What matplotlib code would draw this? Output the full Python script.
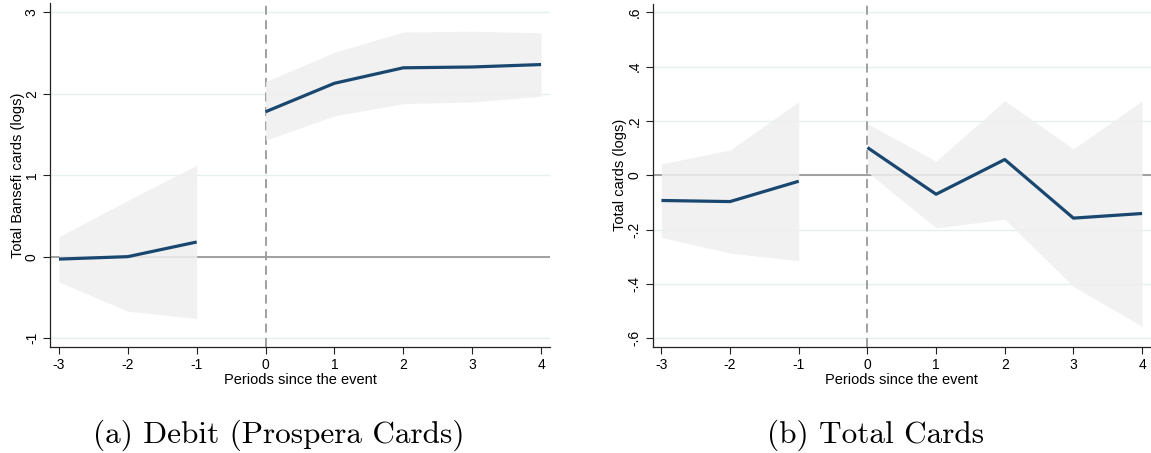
import matplotlib
matplotlib.use("Agg")
import matplotlib.pyplot as plt
import numpy as np

# ---- data ----
periods_pre = [-3, -2, -1]
periods_post = [0, 1, 2, 3, 4]

# Panel (a): Debit (Prospera Cards)
a_pre = [-0.03, 0.00, 0.18]
a_pre_lo = [-0.31, -0.67, -0.76]
a_pre_hi = [0.245, 0.69, 1.125]
a_post = [1.78, 2.13, 2.32, 2.33, 2.36]
a_post_lo = [1.43, 1.73, 1.88, 1.90, 1.97]
a_post_hi = [2.15, 2.51, 2.76, 2.77, 2.75]

# Panel (b): Total Cards
b_pre = [-0.093, -0.097, -0.022]
b_pre_lo = [-0.229, -0.287, -0.315]
b_pre_hi = [0.042, 0.093, 0.271]
b_post = [0.102, -0.070, 0.058, -0.158, -0.141]
b_post_lo = [0.012, -0.194, -0.162, -0.410, -0.557]
b_post_hi = [0.19, 0.052, 0.275, 0.097, 0.274]

xticks = [-3, -2, -1, 0, 1, 2, 3, 4]
a_yticks = [-1, 0, 1, 2, 3]
a_ylabels = ["-1", "0", "1", "2", "3"]
b_yticks = [-0.6, -0.4, -0.2, 0, 0.2, 0.4, 0.6]
b_ylabels = ["-.6", "-.4", "-.2", "0", ".2", ".4", ".6"]

a_ylabel = "Total Bansefi cards (logs)"
b_ylabel = "Total cards (logs)"
xlabel = "Periods since the event"
a_caption = "(a) Debit (Prospera Cards)"
b_caption = "(b) Total Cards"

LINE = "#1a476f"
BAND = "#efefef"
GRID = "#e6f0f1"
SANS = ["Liberation Sans", "DejaVu Sans"]

fig = plt.figure(figsize=(11.51, 4.53), dpi=100)
axA = fig.add_axes([50 / 1151, 1 - 347 / 453, 500 / 1151, 343.5 / 453])
axB = fig.add_axes([652.5 / 1151, 1 - 347 / 453, 498.5 / 1151, 343.5 / 453])


def panel(ax, pre, pre_lo, pre_hi, post, post_lo, post_hi, yticks, ylabels, ylim, ylabel):
    ax.set_xlim(-3.13, 4.13)
    ax.set_ylim(*ylim)
    for t in yticks:
        ax.axhline(t, color=GRID, lw=1.0, zorder=0)
    ax.axhline(0, color="#999999", lw=1.3, zorder=1)
    ax.axvline(0, color="#999999", lw=1.3, ls=(0, (5, 3)), zorder=1)
    ax.fill_between(periods_pre, pre_lo, pre_hi, color=BAND, alpha=0.85, lw=0, zorder=2)
    ax.fill_between(periods_post, post_lo, post_hi, color=BAND, alpha=0.85, lw=0, zorder=2)
    ax.plot(periods_pre, pre, color=LINE, lw=2.3, zorder=3, solid_capstyle="butt")
    ax.plot(periods_post, post, color=LINE, lw=2.3, zorder=3, solid_capstyle="butt")
    ax.set_xticks(xticks)
    ax.set_xticklabels([str(t) for t in xticks], fontsize=10, family=SANS)
    ax.set_yticks(yticks)
    ax.set_yticklabels(ylabels, fontsize=10, family=SANS, rotation=90, va="center")
    ax.tick_params(direction="out", length=5, width=0.8, color="#222222", pad=3)
    ax.set_xlabel(xlabel, fontsize=10.5, family=SANS, labelpad=1)
    ax.set_ylabel(ylabel, fontsize=10.5, family=SANS, labelpad=0)
    for s in ["top", "right"]:
        ax.spines[s].set_visible(False)
    for s in ["left", "bottom"]:
        ax.spines[s].set_linewidth(0.9)
        ax.spines[s].set_color("#222222")


panel(axA, a_pre, a_pre_lo, a_pre_hi, a_post, a_post_lo, a_post_hi,
      a_yticks, a_ylabels, (-1.11, 3.11), a_ylabel)
panel(axB, b_pre, b_pre_lo, b_pre_hi, b_post, b_post_lo, b_post_hi,
      b_yticks, b_ylabels, (-0.633, 0.633), b_ylabel)

fig.text(279 / 1151, 1 - 435 / 453, a_caption, family="cmr10", fontsize=22.5,
         ha="center", va="center")
fig.text(876 / 1151, 1 - 435 / 453, b_caption, family="cmr10", fontsize=22.5,
         ha="center", va="center")

fig.savefig("out.png", dpi=100)
